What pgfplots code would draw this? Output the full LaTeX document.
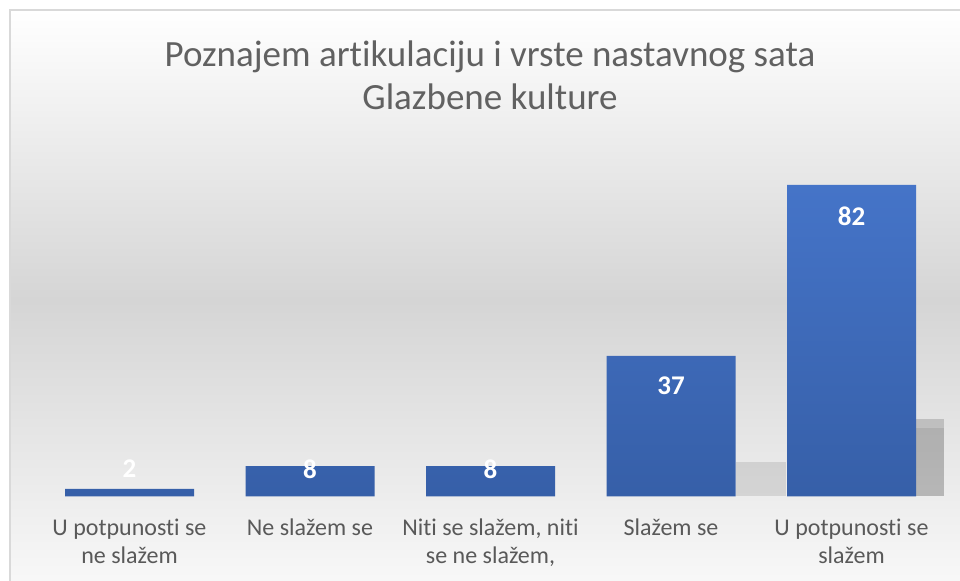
\documentclass[border=0pt]{standalone}
\usepackage{pgfplots}
\pgfplotsset{compat=1.18}
\usepackage{fontspec}
\setmainfont[Ligatures=NoCommon]{Carlito}
\definecolor{bartop}{RGB}{69,116,200}
\definecolor{barbot}{RGB}{54,95,168}
\definecolor{txt}{RGB}{89,89,89}
\definecolor{bgmid}{RGB}{213,213,213}
\definecolor{frame}{RGB}{217,217,217}
\begin{document}
\begin{tikzpicture}
\path[use as bounding box] (0,0) rectangle (960bp,581bp);
\fill[white] (0,0) rectangle (960bp,581bp);
\shade[top color=white, bottom color=bgmid] (10bp,281bp) rectangle (960bp,571bp);
\shade[top color=bgmid, bottom color=white!97!black] (10bp,0bp) rectangle (960bp,281bp);
\draw[frame, line width=2bp] (10bp,0bp) -- (10bp,571bp) -- (960bp,571bp);
\node[anchor=north, align=center, inner sep=0pt, text=txt!95!white,
      font=\fontsize{37bp}{43bp}\selectfont] at (490bp,544.5bp)
  {\rule{0pt}{30bp}Poznajem artikulaciju i vrste nastavnog sata\\Glazbene kulture};
\begin{axis}[
  at={(39.25bp,84.5bp)}, anchor=south west,
  width=902.5bp, height=341.9bp, scale only axis,
  xmin=-0.5, xmax=4.5, ymin=0, ymax=90,
  axis line style={draw=none},
  ytick=\empty,
  xtick={0,1,2,3,4},
  major tick length=0pt,
  xticklabels={
    {\rule{0pt}{20bp}U potpunosti se\\ne slažem},
    {\rule{0pt}{20bp}Ne slažem se},
    {\rule{0pt}{20bp}Niti se slažem, niti\\se ne slažem,},
    {\rule{0pt}{20bp}Slažem se},
    {\rule{0pt}{20bp}U potpunosti se\\slažem}},
  xticklabel style={anchor=north, inner sep=0pt, align=center, text=txt,
    font=\fontsize{24bp}{28bp}\selectfont, yshift=-19bp},
  clip=false,
]
% soft shadows behind the two tallest bars
\addplot[ybar, bar width=50bp, bar shift=90bp, draw=none, fill=black, fill opacity=0.1]
  coordinates {(3,9)};
\addplot[ybar, bar width=28bp, bar shift=78.5bp, draw=none, fill=black, fill opacity=0.16]
  coordinates {(4,20.5)};
\addplot[ybar, bar width=28bp, bar shift=78.5bp, draw=none, fill=black, fill opacity=0.08]
  coordinates {(4,18)};
\addplot[ybar, bar width=129bp, draw=none, top color=bartop, bottom color=barbot]
  coordinates {(0,2) (1,8) (2,8) (3,37) (4,82)};
\addplot[draw=none, mark=none, nodes near coords, point meta=explicit symbolic,
  nodes near coords style={anchor=center, inner sep=0pt, text=white,
    font=\fontsize{27bp}{32bp}\selectfont\bfseries}]
  coordinates {(0,7.24) [2] (1,7.24) [8] (2,7.24) [8] (3,29.2) [37] (4,73.8) [82]};
\end{axis}
\end{tikzpicture}
\end{document}
